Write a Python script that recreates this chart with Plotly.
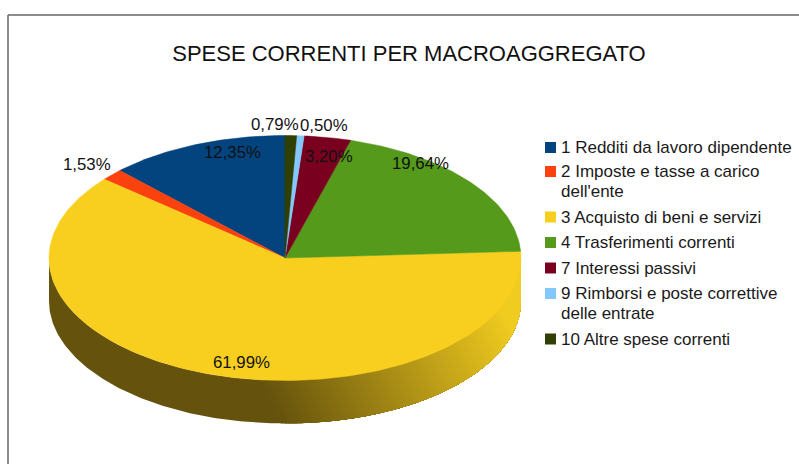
import math
import plotly.graph_objects as go

categories = ["1 Redditi da lavoro dipendente", "2 Imposte e tasse a carico<br>dell'ente",
              "3 Acquisto di beni e servizi", "4 Trasferimenti correnti", "7 Interessi passivi",
              "9 Rimborsi e poste correttive<br>delle entrate", "10 Altre spese correnti"]
values = [12.35, 1.53, 61.99, 19.64, 3.20, 0.50, 0.79]
colors = ["#03447F", "#FB420E", "#F9CF1F", "#559A1A", "#7A0020", "#83C8FC", "#303F04"]
side_dark = (0x65, 0x52, 0x0D)
side_light = (0xF0, 0xCB, 0x20)
label_xy = [(232, 152), (87, 164), (241, 362), (420, 163), (329, 156), (324, 125), (275, 124)]
legend_rows = [147.5, 171.5, 217, 242.5, 268, 293.5, 339]

CX, CY, RX, RY, DEPTH = 285, 258, 236, 122.5, 43
W, H = 799, 464
FONT = "Liberation Sans"
LEG_MARK_X, LEG_TEXT_X, LEG_LINE = 550.5, 560, 20
SLOPE, S0, S1, LEVELS = 0.5, 235, 515, 70


def pt(theta, dy=0.0):
    return CX + RX * math.sin(theta), CY - RY * math.cos(theta) + dy


def clip_above(poly, level):
    """Part of the polygon where x - SLOPE * (y - 340) >= level."""
    f = lambda p: p[0] - SLOPE * (p[1] - 340) - level
    out = []
    for a, b in zip(poly, poly[1:] + poly[:1]):
        fa, fb = f(a), f(b)
        if fa >= 0:
            out.append(a)
        if (fa >= 0) != (fb >= 0):
            u = fa / (fa - fb)
            out.append((a[0] + (b[0] - a[0]) * u, a[1] + (b[1] - a[1]) * u))
    return out


fig = go.Figure()
total = sum(values)
# slices run clockwise from 12 o'clock in reverse legend order
spans = {}
acc = 0.0
for i in reversed(range(len(values))):
    a0 = acc / total * 2 * math.pi
    acc += values[i]
    spans[i] = (a0, acc / total * 2 * math.pi)

# visible wall: the front half of the ellipse, shaded as stacked iso-bands
for i, (a0, a1) in spans.items():
    lo, hi = max(a0, math.pi / 2), min(a1, 3 * math.pi / 2)
    if hi <= lo:
        continue
    n = max(2, int((hi - lo) / math.radians(0.75)))
    ang = [lo + (hi - lo) * k / n for k in range(n + 1)]
    wall = [pt(t) for t in ang] + [pt(t, DEPTH) for t in reversed(ang)]
    for lv in range(LEVELS + 1):
        t = lv / LEVELS
        poly = wall if lv == 0 else clip_above(wall, S0 + (S1 - S0) * t)
        if len(poly) < 3:
            continue
        c = "#%02x%02x%02x" % tuple(int(a + (b - a) * t) for a, b in zip(side_dark, side_light))
        fig.add_trace(go.Scatter(x=[q[0] for q in poly] + [poly[0][0]], y=[q[1] for q in poly] + [poly[0][1]],
                                 mode="lines", fill="toself", fillcolor=c, line=dict(width=0),
                                 hoverinfo="skip", showlegend=False))

# top face
for i in range(len(values)):
    a0, a1 = spans[i]
    n = max(2, int((a1 - a0) / math.radians(1)))
    pts = [(CX, CY)] + [pt(a0 + (a1 - a0) * k / n) for k in range(n + 1)] + [(CX, CY)]
    fig.add_trace(go.Scatter(x=[q[0] for q in pts], y=[q[1] for q in pts], mode="lines", fill="toself",
                             fillcolor=colors[i], line=dict(color=colors[i], width=0.5), name=categories[i],
                             hoverinfo="name", showlegend=False))

# legend: swatches and text
fig.add_trace(go.Scatter(x=[LEG_MARK_X] * len(values), y=legend_rows, mode="markers", hoverinfo="skip",
                         showlegend=False, marker=dict(symbol="square", size=11, color=colors)))
for name, row in zip(categories, legend_rows):
    for j, line in enumerate(name.split("<br>")):
        fig.add_annotation(x=LEG_TEXT_X, y=row + j * LEG_LINE, text=line, showarrow=False, xanchor="left",
                           xshift=-1, font=dict(family=FONT, size=17, color="#1a1a1a"))

for v, (x, y) in zip(values, label_xy):
    fig.add_annotation(x=x, y=y, text=f"{v:.2f}%".replace(".", ","), showarrow=False,
                       font=dict(family=FONT, size=16.8, color="#111111"))

fig.add_shape(type="line", x0=8, x1=8, y0=15, y1=H, line=dict(color="#666666", width=1.5))
fig.add_shape(type="line", x0=8, x1=W, y0=15, y1=15, line=dict(color="#666666", width=1.5))

fig.update_layout(
    width=W, height=H, autosize=False, margin=dict(l=0, r=0, t=0, b=0), showlegend=False,
    paper_bgcolor="white", plot_bgcolor="white",
    title=dict(text="SPESE CORRENTI PER MACROAGGREGATO", x=409 / W, xanchor="center", y=1 - 53 / H,
               yanchor="middle", font=dict(family=FONT, size=22, color="#111111")),
    xaxis=dict(range=[0, W], visible=False, fixedrange=True),
    yaxis=dict(range=[H, 0], visible=False, fixedrange=True),
)
fig.write_html("out.html", config={"displayModeBar": False},
               post_script="document.body.style.margin='0';document.body.style.overflow='hidden';")
